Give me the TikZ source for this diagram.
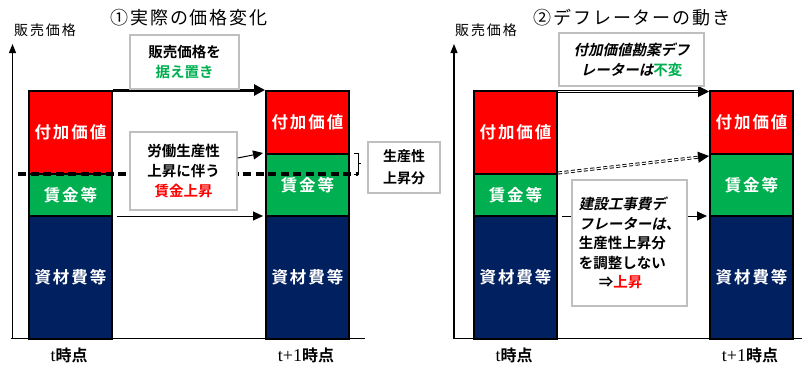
\documentclass[tikz,border=0pt]{standalone}
\usepackage{fontspec}
\usetikzlibrary{arrows.meta}
\newfontfamily\jp{Noto Sans CJK JP}
\newfontfamily\jpb{Noto Sans CJK JP Bold}
\newfontfamily\jpbi{Noto Sans CJK JP Bold}[FakeSlant=0.22]
\newfontfamily\tms{Liberation Serif}
\definecolor{cred}{HTML}{FF0000}
\definecolor{cgreen}{HTML}{00B050}
\definecolor{cnavy}{HTML}{002060}
\definecolor{cgray}{HTML}{BFBFBF}
\newcommand\titlefont{\jp\fontsize{18}{20}\selectfont\addfontfeature{LetterSpace=10}}
\newcommand\axfont{\jp\fontsize{14}{16}\selectfont\addfontfeature{LetterSpace=14}}
\newcommand\barfont{\jpb\fontsize{16.5}{20}\selectfont\addfontfeature{LetterSpace=12}}
\newcommand\boxfont{\jpb\fontsize{14.5}{20}\selectfont}
\newcommand\timefont{\jpb\fontsize{16}{20}\selectfont}
\tikzset{
  seg/.style={draw=black, line width=2pt, text=white, inner sep=0pt,
    anchor=north west, minimum width=83pt, font=\barfont},
  lbox/.style={draw=cgray, line width=1.3pt, fill=white, inner sep=0pt,
    align=center, font=\boxfont},
  axisline/.style={line width=1.1pt, -{Triangle[length=9pt,width=7pt]}},
  baseline/.style={line width=1.6pt},
  thickarr/.style={line width=3pt, -{Triangle[length=11pt,width=11pt]}},
  thinarr/.style={line width=1pt, -{Triangle[length=10pt,width=9pt]}},
  dblarr/.style={draw=black, line width=0.9pt, double=white, double distance=1.2pt,
    -{Triangle[length=11pt,width=11pt]}},
  dblgap/.style={dblarr, dash pattern=on 4pt off 2.5pt},
  dashline/.style={line width=3.5pt, dash pattern=on 8pt off 4.5pt},
  brk/.style={line width=0.8pt},
}
\begin{document}
\begin{tikzpicture}[x=1pt,y=-1pt]
\useasboundingbox (0,0) rectangle (802,365);
% ---------- titles and axis labels
\node[font=\titlefont] (t1) at (189,18) {①実際の価格変化};
\node[font=\titlefont] (t2) at (632,18) {②デフレーターの動き};
\node[font=\axfont] (yl1) at (45,30) {販売価格};
\node[font=\axfont] (yl2) at (486,30) {販売価格};
% ---------- axes
\coordinate (o1) at (12.5,338.5); \coordinate (y1) at (12.5,44);
\coordinate (xa1) at (11,338.5); \coordinate (xb1) at (365,338.5);
\draw[axisline] (o1) -- (y1);
\draw[baseline] (xa1) -- (xb1);
\coordinate (o2) at (454,338.5); \coordinate (y2) at (454,44);
\coordinate (xa2) at (453,338.5); \coordinate (xb2) at (802,338.5);
\draw[axisline] (o2) -- (y2);
\draw[baseline] (xa2) -- (xb2);
% ---------- panel 1 bars
\node[seg, fill=cred,   minimum height=83pt]  (Lr1) at (28,90)  {付加価値};
\node[seg, fill=cgreen, minimum height=42pt]  (Lg1) at (28,173) {賃金等};
\node[seg, fill=cnavy,  minimum height=123pt] (Ln1) at (28,215) {資材費等};
\node[seg, fill=cred,   minimum height=63pt]  (Rr1) at (265,90)  {付加価値};
\node[seg, fill=cgreen, minimum height=62pt]  (Rg1) at (265,153) {賃金等};
\node[seg, fill=cnavy,  minimum height=123pt] (Rn1) at (265,215) {資材費等};
% ---------- panel 2 bars
\node[seg, fill=cred,   minimum height=83pt]  (Lr2) at (473,90)  {付加価値};
\node[seg, fill=cgreen, minimum height=42pt]  (Lg2) at (473,173) {賃金等};
\node[seg, fill=cnavy,  minimum height=123pt] (Ln2) at (473,215) {資材費等};
\node[seg, fill=cred,   minimum height=63pt]  (Rr2) at (709,90)  {付加価値};
\node[seg, fill=cgreen, minimum height=62pt]  (Rg2) at (709,153) {賃金等};
\node[seg, fill=cnavy,  minimum height=123pt] (Rn2) at (709,215) {資材費等};
% ---------- time labels
\node[font=\timefont] (tl1) at (69,355) {{\tms\fontsize{18}{20}\selectfont t}時点};
\node[font=\timefont] (tr1) at (306,355) {{\tms\fontsize{18}{20}\selectfont t+1}時点};
\node[font=\timefont] (tl2) at (514,355) {{\tms\fontsize{18}{20}\selectfont t}時点};
\node[font=\timefont] (tr2) at (750,355) {{\tms\fontsize{18}{20}\selectfont t+1}時点};
% ---------- panel 1 connectors
\coordinate (d1) at (18,174); \coordinate (d2) at (358,174);
\draw[dashline] (d1) -- (d2);
\draw[thickarr] (Lr1.north east) -- (Rr1.north west);
\draw[thinarr] ([xshift=4pt,yshift=-1pt]Ln1.north east) -- ([xshift=-2pt,yshift=-1pt]Rn1.north west);
\coordinate (k1) at (354,153); \coordinate (k2) at (358,153);
\coordinate (k3) at (358,174); \coordinate (k4) at (354,174);
\coordinate (k5) at (358,163.5); \coordinate (k6) at (361,163.5);
\draw[brk] (k1) -- (k2) -- (k3) -- (k4);
\draw[brk] (k5) -- (k6);
% ---------- panel 1 boxes
\node[lbox, minimum width=109pt, minimum height=54pt] (b1) at (184.5,62)
  {販売価格を\\\textcolor{cgreen}{据え置き}};
\node[lbox, minimum width=107pt, minimum height=78pt] (b2) at (183.5,171)
  {労働生産性\\上昇に伴う\\\textcolor{cred}{賃金上昇}};
\draw[thinarr] ([yshift=13pt]b2.east) -- ([xshift=-2pt]Rg1.north west);
\node[lbox, minimum width=72pt, minimum height=51pt, font=\jpb\fontsize{14}{22}\selectfont] (b3) at (404,167.5)
  {生産性\\上昇分};
% ---------- panel 2 connectors
\draw[dblarr] ([yshift=-1.5pt]Lr2.north east) -- ([yshift=-1.5pt]Rr2.north west);
\draw[dblgap] (Lg2.north east) -- ([yshift=-3pt]Rg2.north west);
\draw[thinarr] ([xshift=4pt,yshift=-1pt]Ln2.north east) -- ([xshift=-2pt,yshift=-1pt]Rn2.north west);
% ---------- panel 2 boxes
\node[lbox, minimum width=145pt, minimum height=53pt] (b4) at (631.5,59.5)
  {{\jpbi 付加価値勘案デフ}\\{\jpbi レーターは}\textcolor{cgreen}{不変}};
\node[lbox, align=left, minimum width=115pt, minimum height=126pt,
  font=\jpb\fontsize{14.5}{19.5}\selectfont] (b5) at (629.5,243)
  {{\jpbi 建設工事費デ}\\{\jpbi フレーターは、}\\生産性上昇分\\を調整しない\\\hspace*{20pt}⇒\textcolor{cred}{上昇}};
\end{tikzpicture}
\end{document}
